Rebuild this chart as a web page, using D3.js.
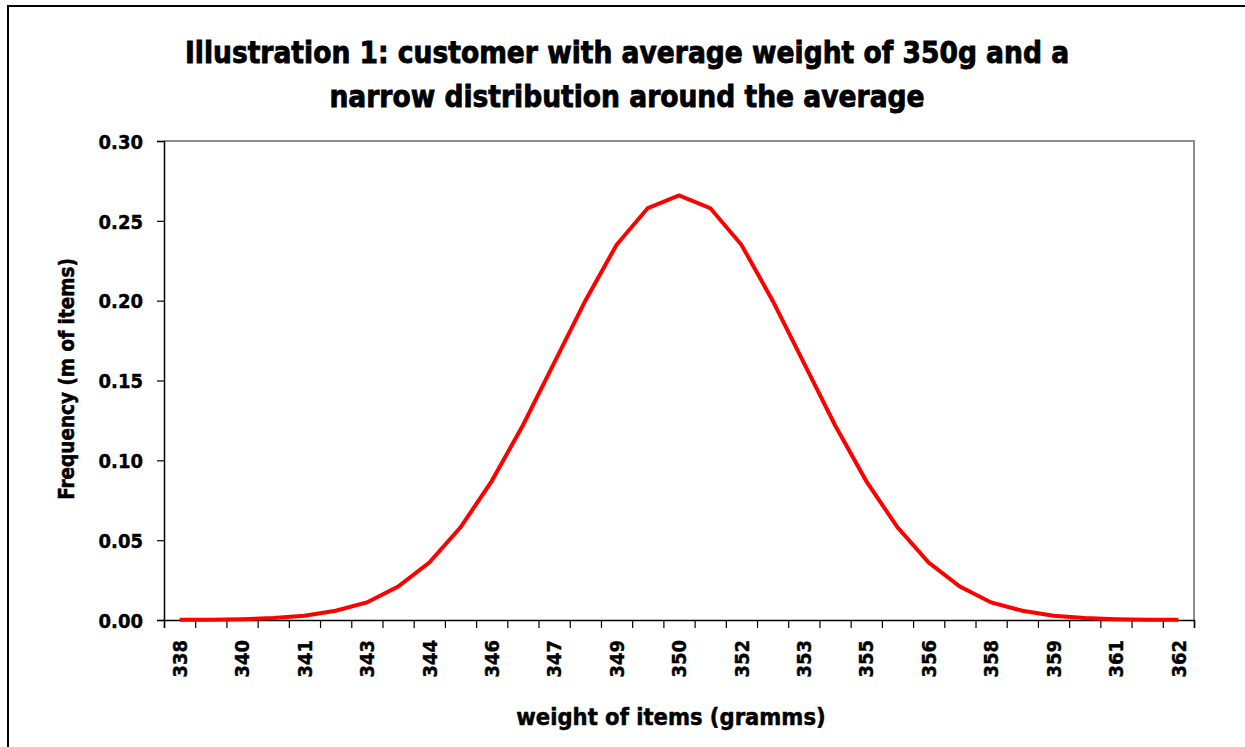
<!DOCTYPE html>
<html>
<head>
<meta charset="utf-8">
<script src="https://cdn.jsdelivr.net/npm/d3@7"></script>
<style>
  body { margin: 0; background: #fff; }
  svg { display: block; }
  .axis text { font-family: "DejaVu Sans Condensed", "DejaVu Sans", sans-serif; font-weight: bold; fill: #000; }
</style>
</head>
<body>
<svg id="chart" width="1245" height="747"></svg>
<script>
// weight categories (grams), one every 0.75g
const weights = [338, 338.75, 339.5, 340.25, 341, 341.75, 342.5, 343.25, 344, 344.75, 345.5,
  346.25, 347, 347.75, 348.5, 349.25, 350, 350.75, 351.5, 352.25, 353, 353.75, 354.5,
  355.25, 356, 356.75, 357.5, 358.25, 359, 359.75, 360.5, 361.25, 362];

// frequency (m of items)
const frequency = [0.0001, 0.0002, 0.0005, 0.0012, 0.0027, 0.0058, 0.011, 0.021, 0.036, 0.058, 0.087,
  0.122, 0.161, 0.200, 0.235, 0.258, 0.266, 0.258, 0.235, 0.200, 0.161, 0.122, 0.087,
  0.058, 0.036, 0.021, 0.011, 0.0058, 0.0027, 0.0012, 0.0005, 0.0002, 0.0001];

// labels shown under every second category
const xTickLabels = ["338", "340", "341", "343", "344", "346", "347", "349", "350",
  "352", "353", "355", "356", "358", "359", "361", "362"];

const yTicks = [0, 0.05, 0.10, 0.15, 0.20, 0.25, 0.30];

const titleLines = ["Illustration 1: customer with average weight of 350g and a",
  "narrow distribution around the average"];

const svg = d3.select("#chart");
const margin = { left: 164, right: 1194, top: 141, bottom: 620 };

// outer frame (runs off the right / bottom edge)
svg.append("rect")
  .attr("x", 8).attr("y", 6)
  .attr("width", 1400).attr("height", 900)
  .attr("fill", "none")
  .attr("stroke", "#000")
  .attr("stroke-width", 2);

const x = d3.scaleBand()
  .domain(weights)
  .range([margin.left, margin.right])
  .paddingInner(0).paddingOuter(0);

const xEdge = d3.scaleLinear()
  .domain([0, weights.length])
  .range([margin.left, margin.right]);

const y = d3.scaleLinear()
  .domain([0, 0.30])
  .range([margin.bottom, margin.top]);

// plot area top/right border
svg.append("path")
  .attr("d", `M${margin.left},${margin.top}H${margin.right}V${margin.bottom}`)
  .attr("fill", "none")
  .attr("stroke", "#8c8c8c")
  .attr("stroke-width", 2);

// y axis
const yAxis = svg.append("g")
  .attr("class", "axis")
  .attr("transform", `translate(${margin.left},0)`)
  .call(d3.axisLeft(y).tickValues(yTicks).tickFormat(d3.format(".2f")).tickSize(7).tickPadding(14));
yAxis.selectAll("text").style("font-size", "20px").attr("dy", "0.36em")
  .attr("stroke", "#000").attr("stroke-width", 0.4);
yAxis.select(".domain").attr("stroke", "#000").attr("stroke-width", 1.5);
yAxis.selectAll(".tick line").attr("stroke", "#000").attr("stroke-width", 1.2);

// x axis: ticks at category edges
const xTicks = svg.append("g")
  .attr("class", "axis")
  .attr("transform", `translate(0,${margin.bottom})`)
  .call(d3.axisBottom(xEdge).tickValues(d3.range(weights.length + 1)).tickFormat("").tickSize(8));
xTicks.select(".domain").attr("stroke", "#000").attr("stroke-width", 1.5);
xTicks.selectAll(".tick line").attr("stroke", "#000").attr("stroke-width", 1.2);

// x labels at the centre of every second category
const labelled = weights.filter((d, i) => i % 2 === 0);
const xLabels = svg.append("g")
  .attr("class", "axis")
  .attr("transform", `translate(0,${margin.bottom})`)
  .call(d3.axisBottom(x).tickValues(labelled)
    .tickFormat((d, i) => xTickLabels[i]).tickSize(0).tickPadding(0));
xLabels.select(".domain").remove();
xLabels.selectAll("text")
  .style("font-size", "20px")
  .attr("stroke", "#000").attr("stroke-width", 0.4)
  .attr("text-anchor", "end")
  .attr("transform", "rotate(-90)")
  .attr("x", -20)
  .attr("y", 0)
  .attr("dy", "0.36em");

// curve
const line = d3.line()
  .x((d, i) => x(weights[i]) + x.bandwidth() / 2)
  .y(d => y(d));

svg.append("path")
  .datum(frequency)
  .attr("d", line)
  .attr("fill", "none")
  .attr("stroke", "#ff0000")
  .attr("stroke-width", 4)
  .attr("stroke-linejoin", "miter");

const labelFont = "'DejaVu Sans Condensed', 'DejaVu Sans', sans-serif";

// titles
svg.append("g").selectAll("text")
  .data(titleLines)
  .join("text")
  .attr("x", 627)
  .attr("y", (d, i) => 63 + i * 44)
  .attr("text-anchor", "middle")
  .style("font-family", labelFont)
  .style("font-weight", "bold")
  .style("font-size", "29.5px")
  .attr("stroke", "#000").attr("stroke-width", 0.8)
  .text(d => d);

svg.append("text")
  .attr("transform", "translate(74,379) rotate(-90)")
  .attr("text-anchor", "middle")
  .style("font-family", labelFont)
  .style("font-weight", "bold")
  .style("font-size", "20.5px")
  .attr("stroke", "#000").attr("stroke-width", 0.5)
  .text("Frequency (m of items)");

svg.append("text")
  .attr("x", 671)
  .attr("y", 725)
  .attr("text-anchor", "middle")
  .style("font-family", labelFont)
  .style("font-weight", "bold")
  .style("font-size", "23.5px")
  .attr("stroke", "#000").attr("stroke-width", 0.5)
  .text("weight of items (gramms)");
</script>
</body>
</html>
